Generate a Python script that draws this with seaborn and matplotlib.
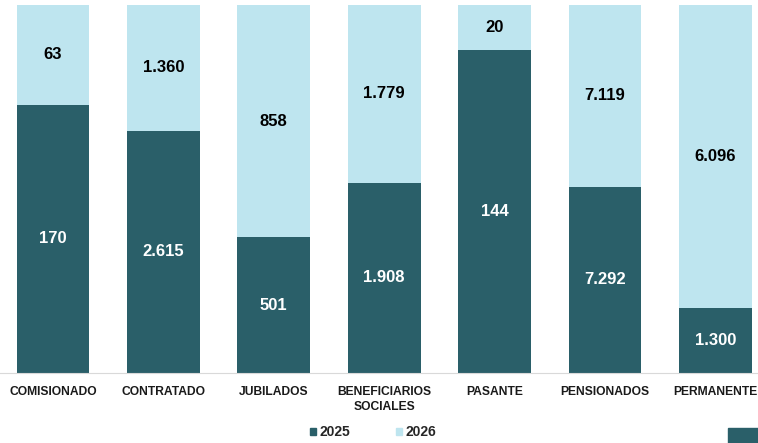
import matplotlib
matplotlib.use("Agg")
import matplotlib.pyplot as plt
from matplotlib.patches import Patch, Rectangle
import numpy as np
import pandas as pd
import seaborn as sns

categories = ["COMISIONADO", "CONTRATADO", "JUBILADOS", "BENEFICIARIOS\nSOCIALES",
              "PASANTE", "PENSIONADOS", "PERMANENTE"]
values_2025 = [170, 2615, 501, 1908, 144, 7292, 1300]
values_2026 = [63, 1360, 858, 1779, 20, 7119, 6096]

dark = "#2a5f69"
light = "#bee5ef"


def fmt(v):
    return f"{v:,}".replace(",", ".")


totals = np.array(values_2025) + np.array(values_2026)
df = pd.DataFrame({
    "cat": categories,
    "share25": np.array(values_2025) / totals,
    "full": np.ones(len(categories)),
})

sns.set_style("white")
plt.rcParams["font.family"] = ["Liberation Sans Narrow", "Liberation Sans", "DejaVu Sans"]

fig = plt.figure(figsize=(7.58, 4.43), dpi=100)
ax = fig.add_axes([0, 0.158, 1, 0.8307])

# 100% stacked: light bar is the total, dark bar is the 2025 share
sns.barplot(ax=ax, data=df, x="cat", y="full", color=light, width=0.66,
            saturation=1, linewidth=0)
sns.barplot(ax=ax, data=df, x="cat", y="share25", color=dark, width=0.66,
            saturation=1, linewidth=0)

for i, (a, b) in enumerate(zip(values_2025, values_2026)):
    p = df["share25"][i]
    ax.text(i, p / 2, fmt(a), ha="center", va="center", color="white",
            fontsize=12, fontweight="bold", family=["Liberation Sans", "DejaVu Sans"])
    ax.text(i, p + (1 - p) / 2, fmt(b), ha="center", va="center", color="black",
            fontsize=12, fontweight="bold", family=["Liberation Sans", "DejaVu Sans"])

ax.set_xlabel("")
ax.set_ylabel("")
ax.set_yticks([])
for s in ["top", "left", "right"]:
    ax.spines[s].set_visible(False)
ax.spines["bottom"].set_color("#d9d9d9")
ax.tick_params(axis="x", length=0, pad=9)
ax.set_xticks(np.arange(len(categories) - 1) + 0.5, minor=True)
ax.tick_params(axis="x", which="minor", length=4, color="#d9d9d9")
for lbl in ax.get_xticklabels():
    lbl.set_fontweight("bold")
    lbl.set_fontsize(8.7)
    lbl.set_color("#1a1a1a")
    lbl.set_linespacing(1.4)
ax.set_xlim(-0.48, 6.386)
ax.set_ylim(0, 1)

handles = [Patch(color=dark, label="2025"), Patch(color=light, label="2026")]
fig.legend(handles=handles, loc="center", bbox_to_anchor=(0.492, 0.024), ncol=2,
           frameon=False, handlelength=0.45, handleheight=0.45, handletextpad=0.25,
           columnspacing=3.3, prop={"weight": "bold", "size": 10})

fig.patches.append(Rectangle((728 / 758, 0), 30 / 758, 15 / 443,
                             transform=fig.transFigure, color=dark))

fig.savefig("out.png", dpi=100)
